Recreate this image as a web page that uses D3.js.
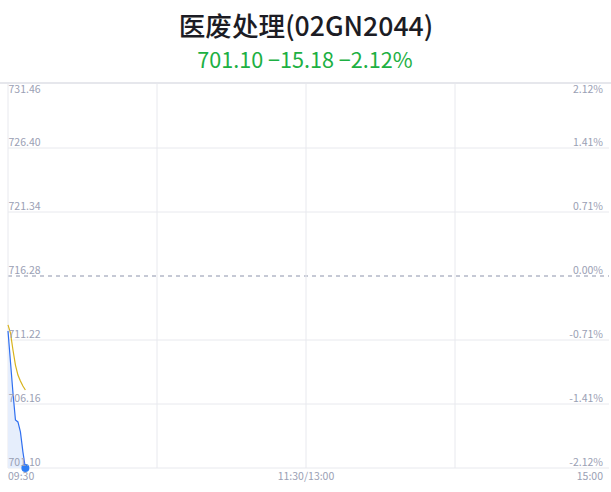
<!DOCTYPE html>
<html>
<head>
<meta charset="utf-8">
<script src="https://cdn.jsdelivr.net/npm/d3@7/dist/d3.min.js"></script>
<style>
  body { margin: 0; background: #fff; }
  svg text { font-family: "Noto Sans CJK SC", "Noto Sans", sans-serif; }
</style>
</head>
<body>
<svg id="chart" width="611" height="492"></svg>
<script>
// data
var title = '医废处理(02GN2044)';
var subTitle = '701.10 \u221215.18 \u22122.12%';
var prevClose = 716.28;
var priceTicks = [731.46, 726.40, 721.34, 716.28, 711.22, 706.16, 701.10];
var pctTicks = ['2.12%', '1.41%', '0.71%', '0.00%', '-0.71%', '-1.41%', '-2.12%'];
var timeLabels = ['09:30', '11:30/13:00', '15:00'];
var minutes = [0, 1, 2, 3, 4, 5, 6, 7];
var price = [711.93, 709.48, 707.03, 704.90, 704.74, 703.95, 702.37, 701.10];
var avgPrice = [712.41, 711.77, 710.43, 709.24, 708.45, 707.98, 707.58, 707.27];

var margin = {top: 84, right: 7, bottom: 24, left: 8},
  width = 611 - margin.left - margin.right,
  height = 492 - margin.top - margin.bottom;

var svg = d3.select('#chart');

// judul
svg.append('text')
  .attr('x', 306).attr('y', 36)
  .attr('text-anchor', 'middle')
  .attr('font-size', 26.6)
  .attr('font-weight', 500)
  .attr('fill', '#1c1c24')
  .text(title);

svg.append('text')
  .attr('x', 305).attr('y', 68)
  .attr('text-anchor', 'middle')
  .attr('font-size', 21.6)
  .attr('fill', '#1db043')
  .text(subTitle);

// garis batas atas
svg.append('line')
  .attr('x1', 0).attr('x2', 611)
  .attr('y1', margin.top - 1).attr('y2', margin.top - 1)
  .attr('stroke', '#e6e7ec')
  .attr('stroke-width', 2);

var x = d3.scaleLinear().domain([0, 240]).range([0, 596]);
var y = d3.scaleLinear().domain([701.10, 731.46]).range([height, 0]);

var g = svg.append('g')
  .attr('transform', 'translate(' + margin.left + ',' + margin.top + ')');

// garis grid horizontal
g.selectAll('.hgrid')
  .data(priceTicks.slice(1))
  .enter().append('line')
  .attr('x1', 0).attr('x2', 601)
  .attr('y1', function(d) { return y(d); })
  .attr('y2', function(d) { return y(d); })
  .attr('stroke', function(d) { return d === prevClose ? '#8c93ab' : '#e8e9ee'; })
  .attr('stroke-dasharray', function(d) { return d === prevClose ? '4,4' : null; });

// garis grid vertikal
g.selectAll('.vgrid')
  .data([0, 60, 120, 180])
  .enter().append('line')
  .attr('x1', function(d) { return x(d); })
  .attr('x2', function(d) { return x(d); })
  .attr('y1', 0).attr('y2', height)
  .attr('stroke', '#e8e9ee');

// area harga
var area = d3.area()
  .x(function(d, i) { return x(minutes[i]); })
  .y0(height)
  .y1(function(d) { return y(d); });

g.append('path')
  .datum(price)
  .attr('d', area)
  .attr('fill', '#e6eefc');

var line = d3.line()
  .x(function(d, i) { return x(minutes[i]); })
  .y(function(d) { return y(d); });

g.append('path')
  .datum(avgPrice)
  .attr('d', line)
  .attr('fill', 'none')
  .attr('stroke', '#d8b31c')
  .attr('stroke-width', 1.2);

g.append('path')
  .datum(price)
  .attr('d', line)
  .attr('fill', 'none')
  .attr('stroke', '#2f6ff0')
  .attr('stroke-width', 1.2);

var last = price.length - 1;
g.append('circle')
  .attr('cx', x(minutes[last]))
  .attr('cy', y(price[last]))
  .attr('r', 4)
  .attr('fill', '#2f7df5');

// label sumbu kiri & kanan (label paling atas di bawah garis)
function labelY(d, i) { return i === 0 ? y(d) + 9 : y(d) - 2; }

g.selectAll('.ylab')
  .data(priceTicks)
  .enter().append('text')
  .attr('x', 0.5)
  .attr('y', labelY)
  .attr('font-size', 10.5)
  .attr('fill', '#9aa0b4')
  .text(function(d) { return d.toFixed(2); });

g.selectAll('.pctlab')
  .data(priceTicks)
  .enter().append('text')
  .attr('x', 595)
  .attr('y', labelY)
  .attr('text-anchor', 'end')
  .attr('font-size', 10.5)
  .attr('fill', '#9aa0b4')
  .text(function(d, i) { return pctTicks[i]; });

// label waktu
g.selectAll('.tlab')
  .data(timeLabels)
  .enter().append('text')
  .attr('x', function(d, i) { return [x(0), x(120), 595][i]; })
  .attr('y', height + 12)
  .attr('text-anchor', function(d, i) { return ['start', 'middle', 'end'][i]; })
  .attr('font-size', 10.5)
  .attr('fill', '#9aa0b4')
  .text(function(d) { return d; });
</script>
</body>
</html>
